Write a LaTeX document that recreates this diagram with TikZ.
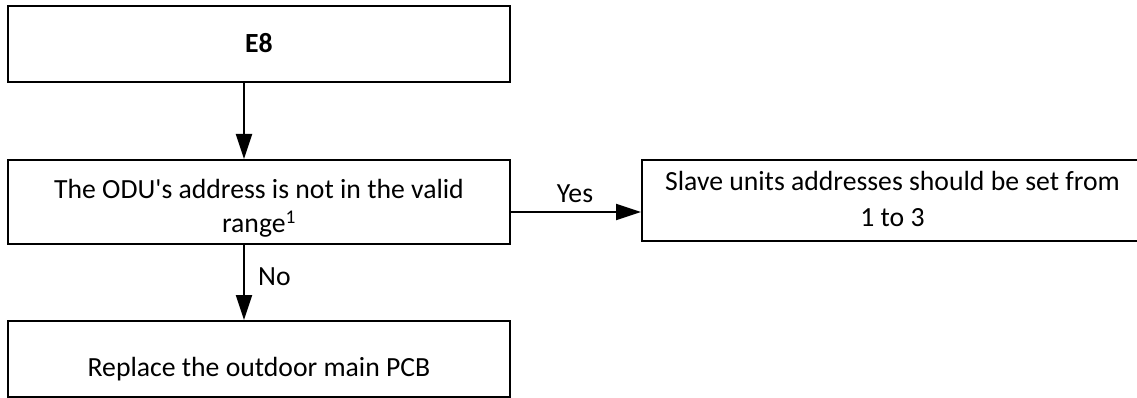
\documentclass[tikz,border=0pt]{standalone}
\usepackage{fontspec}
\setmainfont{Carlito}[Ligatures=TeXOff]
\usetikzlibrary{arrows.meta}
\begin{document}
\begin{tikzpicture}[x=1pt,y=-1pt,
  every node/.style={font=\fontsize{27.7}{35}\selectfont, inner sep=0pt},
  box/.style={draw, line width=2pt, minimum width=502pt},
  txt/.style={anchor=base},
  arr/.style={line width=2pt, -{Triangle[length=25pt,width=16pt]}}]
\useasboundingbox (0,0) rectangle (1137,398);
\node[box, minimum height=76pt] (e8) at (259,44) {};
\node[box, minimum height=84pt] (odu) at (259,202) {};
\node[box, minimum height=81pt, minimum width=501pt] (slave) at (892.5,200.5) {};
\node[box, minimum height=76pt] (pcb) at (259,359) {};
\node[txt] (e8t) at (259,53) {\textbf{E8}};
\node[txt] (odut1) at (259,198) {The ODU's address is not in the valid};
\node[txt] (odut2) at (259,233) {range\textsuperscript{1}};
\node[txt] (slavet1) at (892.5,191) {Slave units addresses should be set from};
\node[txt] (slavet2) at (892.5,226) {1 to 3};
\node[txt] (pcbt) at (259,376) {Replace the outdoor main PCB};
\draw[arr] ([xshift=-15pt]e8.south) -- ([xshift=-15pt]odu.north);
\draw[arr] ([yshift=-10pt]odu.east) -- ([yshift=-10pt]odu.east -| slave.west);
\draw[arr] ([xshift=-15pt]odu.south) -- ([xshift=-15pt]pcb.north);
\node[txt] (yes) at (575,202) {Yes};
\node[anchor=base west] (no) at (258,285) {No};
\end{tikzpicture}
\end{document}
